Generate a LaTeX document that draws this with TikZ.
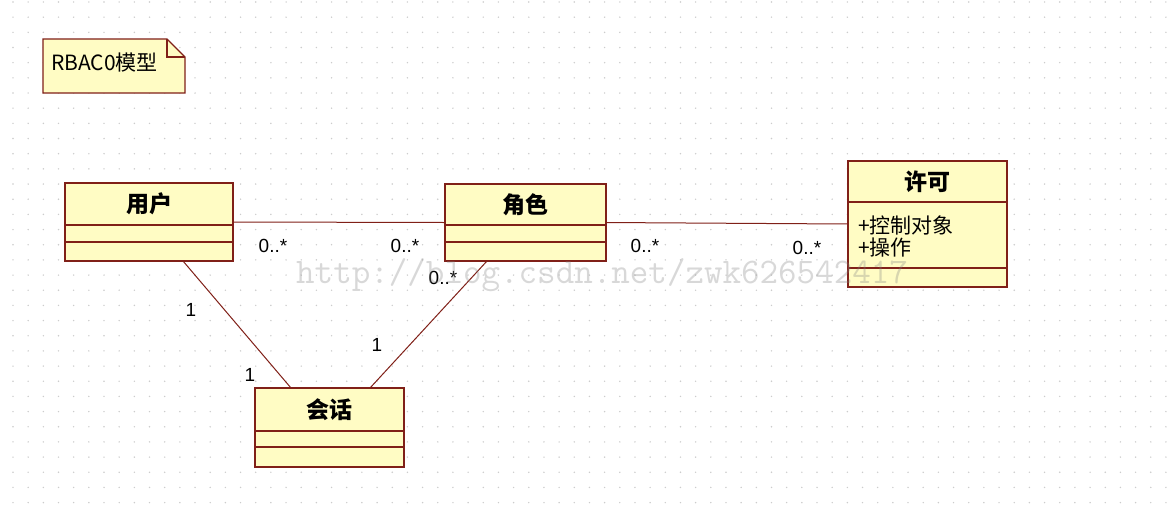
\documentclass[tikz,border=0pt]{standalone}
\usepackage{fontspec}
\setmainfont{Liberation Sans}
\newfontfamily\cjk{Noto Sans CJK SC}
\definecolor{umlfill}{RGB}{255,252,196}
\definecolor{umlline}{RGB}{128,32,24}

\begin{document}
\begin{tikzpicture}[x=1pt,y=-1pt]
	\tikzset{cls/.style={draw=umlline,fill=umlfill,line width=1.2pt,inner sep=0pt,outer sep=0pt}}
	\tikzset{clsname/.style={font=\cjk\bfseries\fontsize{23}{25}\selectfont,inner sep=0pt}}
	\tikzset{mult/.style={font=\fontsize{19}{21}\selectfont,inner sep=0pt}}
	\tikzset{assoc/.style={draw=umlline,line width=1pt}}

	\useasboundingbox[fill=white] (0,0) rectangle (1173,504);
	% dotted grid
	\foreach \i in {0,...,76}
	    \foreach \j in {0,...,33}
	        \fill[gray!40] (13+15.17*\i,2+15.17*\j) circle (0.8pt);

	% note
	\filldraw[cls] (43,39) -- (167,39) -- (185,57) -- (185,93) -- (43,93) -- cycle;
	\draw[cls,fill=none] (167,39) |- (185,57);
	\node[anchor=west,inner sep=0pt,font=\cjk\fontsize{21}{23}\selectfont] (note) at (51,63) {RBAC0模型};

	% classes
	\node[cls,minimum width=168pt,minimum height=78pt] (user) at (149,222) {};
	\draw[cls] ([yshift=-42pt]user.north west) -- ([yshift=-42pt]user.north east);
	\draw[cls] ([yshift=-59pt]user.north west) -- ([yshift=-59pt]user.north east);
	\node[clsname] (userT) at (149,204) {用户};

	\node[cls,minimum width=161pt,minimum height=77pt] (role) at (525.5,222.5) {};
	\draw[cls] ([yshift=-41pt]role.north west) -- ([yshift=-41pt]role.north east);
	\draw[cls] ([yshift=-58pt]role.north west) -- ([yshift=-58pt]role.north east);
	\node[clsname] (roleT) at (525.5,204.5) {角色};

	\node[cls,minimum width=159pt,minimum height=126pt] (perm) at (927.5,224) {};
	\draw[cls] ([yshift=-41pt]perm.north west) -- ([yshift=-41pt]perm.north east);
	\draw[cls] ([yshift=-107pt]perm.north west) -- ([yshift=-107pt]perm.north east);
	\node[clsname] (permT) at (927.5,182) {许可};
	\node[anchor=west,align=left,inner sep=0pt,font=\cjk\fontsize{21}{22}\selectfont] (permA) at (858,236) {+控制对象\\+操作};

	\node[cls,minimum width=149pt,minimum height=79pt] (sess) at (329.5,427.5) {};
	\draw[cls] ([yshift=-43pt]sess.north west) -- ([yshift=-43pt]sess.north east);
	\draw[cls] ([yshift=-59pt]sess.north west) -- ([yshift=-59pt]sess.north east);
	\node[clsname] (sessT) at (329.5,409.5) {会话};

	% associations
	\draw[assoc] (user.east) -- (role.west);
	\draw[assoc] (role.east) -- (perm.west);
	\draw[assoc] ([xshift=34pt]user.south) -- ([xshift=-38.5pt]sess.north);
	\draw[assoc] ([xshift=-38.5pt]role.south) -- ([xshift=40.5pt]sess.north);

	% multiplicities
	\node[mult] (m1) at (273,246) {0..*};
	\node[mult] (m2) at (405,246) {0..*};
	\node[mult] (m3) at (645,246) {0..*};
	\node[mult] (m4) at (807,248) {0..*};
	\node[mult] (m5) at (443,278) {0..*};
	\node[mult] (m6) at (191,310) {1};
	\node[mult] (m7) at (250,375) {1};
	\node[mult] (m8) at (377,345) {1};

	\node[anchor=base west,inner sep=0pt,text=gray,opacity=0.3,font=\ttfamily\fontsize{36}{36}\selectfont] (wm) at (296,283) {http://blog.csdn.net/zwk626542417};
\end{tikzpicture}
\end{document}
